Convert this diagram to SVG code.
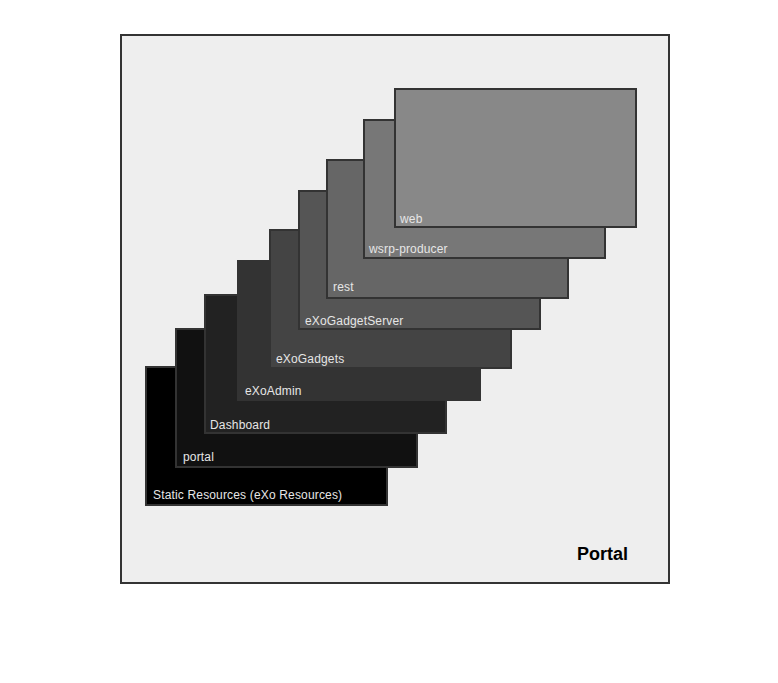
<svg xmlns="http://www.w3.org/2000/svg" width="778" height="683" viewBox="0 0 778 683">
<style>
.box{stroke:#333333;stroke-width:2}
.lbl{font-family:"Liberation Sans",Arial,sans-serif;font-size:12px;letter-spacing:0.16px;fill:#e6e6e6}
.title{font-family:"Liberation Sans",Arial,sans-serif;font-size:18px;font-weight:bold;fill:#000000}
</style>
<rect width="778" height="683" fill="#ffffff"/>
<g id="portal-container">
<rect x="121" y="35" width="548" height="548" fill="#eeeeee" class="box"/>
<text x="577" y="559.5" class="title">Portal</text>
</g>
<g id="static-resources">
<rect x="146" y="367" width="241" height="138" fill="#000000" class="box"/>
<text x="153" y="499" class="lbl">Static Resources (eXo Resources)</text>
</g>
<g id="portal">
<rect x="176" y="329" width="241" height="138" fill="#111111" class="box"/>
<text x="183" y="460.5" class="lbl">portal</text>
</g>
<g id="dashboard">
<rect x="205" y="295" width="241" height="138" fill="#222222" class="box"/>
<text x="210" y="428.5" class="lbl">Dashboard</text>
</g>
<g id="exoadmin">
<rect x="238" y="261" width="242" height="139" fill="#333333" class="box"/>
<text x="245" y="394.5" class="lbl">eXoAdmin</text>
</g>
<g id="exogadgets">
<rect x="270" y="230" width="241" height="138" fill="#444444" class="box"/>
<text x="276" y="362.5" class="lbl">eXoGadgets</text>
</g>
<g id="exogadgetserver">
<rect x="299" y="191" width="241" height="138" fill="#555555" class="box"/>
<text x="305" y="324.5" class="lbl">eXoGadgetServer</text>
</g>
<g id="rest">
<rect x="327" y="160" width="241" height="138" fill="#666666" class="box"/>
<text x="333" y="290.5" class="lbl">rest</text>
</g>
<g id="wsrp-producer">
<rect x="364" y="120" width="241" height="138" fill="#777777" class="box"/>
<text x="369" y="252.5" class="lbl">wsrp-producer</text>
</g>
<g id="web">
<rect x="395" y="89" width="241" height="138" fill="#888888" class="box"/>
<text x="400" y="222.5" class="lbl">web</text>
</g>
<g id="connectors"/>
</svg>
